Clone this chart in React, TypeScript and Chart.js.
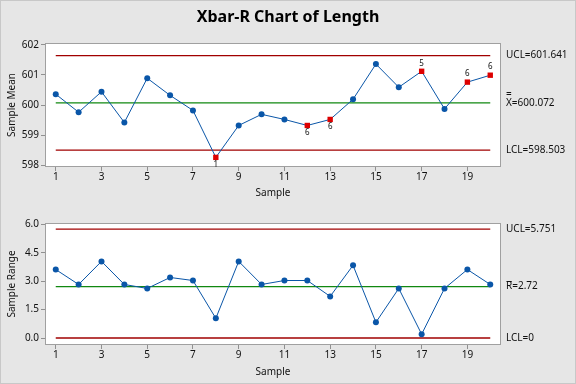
import React, { useEffect, useRef } from "react";
import { Chart, registerables } from "chart.js";

Chart.register(...registerables);

const samples = [1, 2, 3, 4, 5, 6, 7, 8, 9, 10, 11, 12, 13, 14, 15, 16, 17, 18, 19, 20];
const sampleMeans = [600.36, 599.76, 600.44, 599.42, 600.89, 600.32, 599.82, 598.26, 599.32, 599.69,
  599.52, 599.32, 599.52, 600.19, 601.36, 600.59, 601.12, 599.87, 600.76, 600.99];
const sampleRanges = [3.62, 2.83, 4.05, 2.83, 2.62, 3.2, 3.04, 1.04, 4.05, 2.83,
  3.04, 3.04, 2.2, 3.84, 0.83, 2.62, 0.2, 2.62, 3.62, 2.83];
const meanFlags = ["", "", "", "", "", "", "", "1", "", "", "", "6", "6", "", "", "", "5", "", "6", "6"];
const rangeFlags = ["", "", "", "", "", "", "", "", "", "", "", "", "", "", "", "", "", "", "", ""];

const meanUCL = 601.641;
const meanCL = 600.072;
const meanLCL = 598.503;
const rangeUCL = 5.751;
const rangeCL = 2.72;
const rangeLCL = 0;

const xTicks = [1, 3, 5, 7, 9, 11, 13, 15, 17, 19];
const meanTicks = [598, 599, 600, 601, 602];
const rangeTicks = [0, 1.5, 3, 4.5, 6];

const chartTitle = "Xbar-R Chart of Length";
const xTitle = "Sample";
const meanTitle = "Sample Mean";
const rangeTitle = "Sample Range";

const FONT = "'Noto Sans', sans-serif";
const BLUE = "#0A56A8";
const RED = "#DD0000";
const DARKRED = "#A10000";
const GREEN = "#118811";

type Label = { text: string; value: number; bar: "" | "double" | "single" };

type Panel = {
  values: number[];
  flags: string[];
  ucl: number;
  cl: number;
  lcl: number;
  ticks: number[];
  tickDigits: number;
  yMin: number;
  yMax: number;
  yTitle: string;
  labels: Label[];
  padTop: number;
  xAxisHeight: number;
  xTitlePadBottom: number;
  title?: string;
};

function makeChart(canvas: HTMLCanvasElement, p: Panel) {
  const lineDs = (v: number, color: string) => ({
    type: "line" as const,
    data: [{ x: samples[0], y: v }, { x: samples[samples.length - 1], y: v }],
    borderColor: color,
    borderWidth: 1.3,
    pointRadius: 0,
    order: 2,
  });
  const overlay = {
    id: "overlay",
    beforeDraw(chart: any) {
      const { ctx, chartArea: a } = chart;
      ctx.save();
      ctx.fillStyle = "#FFFFFF";
      ctx.fillRect(a.left, a.top, a.right - a.left, a.bottom - a.top);
      ctx.restore();
    },
    afterDraw(chart: any) {
      const { ctx, chartArea: a, scales } = chart;
      ctx.save();
      ctx.strokeStyle = "#A0A0A0";
      ctx.lineWidth = 1;
      ctx.strokeRect(Math.round(a.left) + 0.5, Math.round(a.top) + 0.5, Math.round(a.right - a.left) - 1, Math.round(a.bottom - a.top) - 1);
      ctx.fillStyle = "#111111";
      ctx.font = `10px ${FONT}`;
      ctx.textBaseline = "middle";
      ctx.textAlign = "left";
      const lx = a.right + 5;
      p.labels.forEach((l) => {
        const y = scales.y.getPixelForValue(l.value);
        ctx.fillText(l.text, lx, y);
        if (l.bar === "double") ctx.fillText("=", lx, y - 9);
        if (l.bar === "single") {
          const w = ctx.measureText(l.text.charAt(0)).width;
          ctx.fillRect(lx + 0.5, Math.round(y - 6), w - 1, 1);
        }
      });
      ctx.font = `8px ${FONT}`;
      ctx.textAlign = "center";
      p.flags.forEach((f, i) => {
        if (!f) return;
        const x = scales.x.getPixelForValue(samples[i]);
        const y = scales.y.getPixelForValue(p.values[i]);
        const below = p.values[i] < p.cl;
        ctx.fillText(f, x, below ? y + 7 : y - 8);
      });
      if (p.title) {
        ctx.font = `bold 16px ${FONT}`;
        ctx.fillStyle = "#000000";
        ctx.fillText(p.title, 288, 17);
      }
      ctx.restore();
    },
  };
  return new Chart(canvas, {
    type: "line",
    data: {
      datasets: [
        {
          data: samples.map((s, i) => ({ x: s, y: p.values[i] })),
          borderColor: BLUE,
          borderWidth: 1,
          pointStyle: (c: any) => (p.flags[c.dataIndex] ? "rect" : "circle"),
          pointRadius: (c: any) => (p.flags[c.dataIndex] ? 3.8 : 3),
          pointBackgroundColor: (c: any) => (p.flags[c.dataIndex] ? RED : BLUE),
          pointBorderColor: (c: any) => (p.flags[c.dataIndex] ? RED : BLUE),
          pointBorderWidth: 0,
          order: 1,
        },
        lineDs(p.ucl, DARKRED),
        lineDs(p.cl, GREEN),
        lineDs(p.lcl, DARKRED),
      ],
    },
    options: {
      animation: false,
      responsive: false,
      devicePixelRatio: 1,
      layout: { padding: { left: 0, right: 75, top: p.padTop, bottom: 0 } },
      plugins: { legend: { display: false }, tooltip: { enabled: false } },
      scales: {
        x: {
          type: "linear",
          min: 0.53,
          max: 20.47,
          afterBuildTicks: (s: any) => { s.ticks = xTicks.map((v) => ({ value: v })); },
          afterFit: (s: any) => { s.height = p.xAxisHeight; },
          grid: { drawOnChartArea: false, drawTicks: true, tickLength: 4, color: "#909090" },
          border: { display: false },
          ticks: { color: "#111111", font: { family: FONT, size: 10 }, padding: 0, maxRotation: 0 },
          title: { display: true, text: xTitle, color: "#111111", font: { family: FONT, size: 10 }, padding: { top: 0, bottom: p.xTitlePadBottom } },
        },
        y: {
          type: "linear",
          min: p.yMin,
          max: p.yMax,
          afterBuildTicks: (s: any) => { s.ticks = p.ticks.map((v) => ({ value: v })); },
          afterFit: (s: any) => { s.width = 45; },
          grid: { drawOnChartArea: false, drawTicks: true, tickLength: 4, color: "#909090" },
          border: { display: false },
          ticks: { color: "#111111", font: { family: FONT, size: 10 }, padding: 2, callback: (v: any) => Number(v).toFixed(p.tickDigits) },
          title: { display: true, text: p.yTitle, color: "#111111", font: { family: FONT, size: 10 }, padding: { top: 6, bottom: 0 } },
        },
      },
    },
    plugins: [overlay],
  } as any);
}

export default function App() {
  const topRef = useRef<HTMLCanvasElement>(null);
  const botRef = useRef<HTMLCanvasElement>(null);
  useEffect(() => {
    const c1 = makeChart(topRef.current!, {
      values: sampleMeans,
      flags: meanFlags,
      ucl: meanUCL,
      cl: meanCL,
      lcl: meanLCL,
      ticks: meanTicks,
      tickDigits: 0,
      yMin: 597.94,
      yMax: 602.06,
      yTitle: meanTitle,
      labels: [
        { text: `UCL=${meanUCL}`, value: meanUCL, bar: "" },
        { text: `X=${meanCL}`, value: meanCL, bar: "double" },
        { text: `LCL=${meanLCL}`, value: meanLCL, bar: "" },
      ],
      padTop: 43,
      xAxisHeight: 33,
      xTitlePadBottom: 1,
      title: chartTitle,
    });
    const c2 = makeChart(botRef.current!, {
      values: sampleRanges,
      flags: rangeFlags,
      ucl: rangeUCL,
      cl: rangeCL,
      lcl: rangeLCL,
      ticks: rangeTicks,
      tickDigits: 1,
      yMin: -0.37,
      yMax: 6.08,
      yTitle: rangeTitle,
      labels: [
        { text: `UCL=${rangeUCL}`, value: rangeUCL, bar: "" },
        { text: `R=${rangeCL}`, value: rangeCL, bar: "single" },
        { text: `LCL=${rangeLCL}`, value: rangeLCL, bar: "" },
      ],
      padTop: 23,
      xAxisHeight: 39,
      xTitlePadBottom: 6,
    });
    return () => { c1.destroy(); c2.destroy(); };
  }, []);
  return (
    <div style={{ position: "fixed", left: 0, top: 0, width: 576, height: 384, background: "#E6E6E6", border: "1px solid #C8C8C8", boxSizing: "border-box", overflow: "hidden" }}>
      <canvas ref={topRef} width={576} height={200} style={{ position: "absolute", left: -1, top: -1, width: 576, height: 200 }} />
      <canvas ref={botRef} width={576} height={184} style={{ position: "absolute", left: -1, top: 199, width: 576, height: 184 }} />
    </div>
  );
}
